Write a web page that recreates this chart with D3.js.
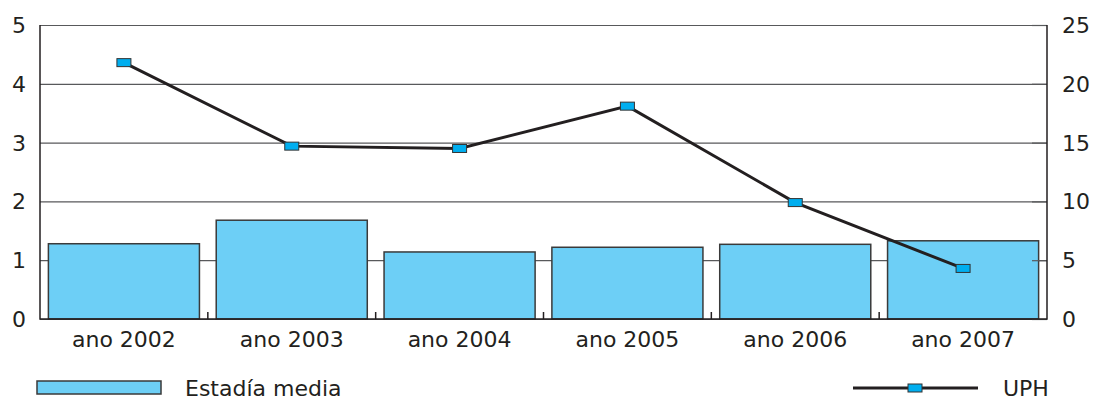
<!DOCTYPE html>
<html lang="es">
<head>
  <meta charset="UTF-8">
  <title>Estadía media y UPH</title>
<style>
  body { margin: 0; background: #fff; }
  svg text { font-family: "DejaVu Sans", "Open Sans", sans-serif; fill: #231f20; }
</style>
</head>
<body>

<svg id="chart" width="1095" height="400"></svg>

<script src="https://d3js.org/d3.v7.min.js"></script>

<script>

var years = ["ano 2002", "ano 2003", "ano 2004", "ano 2005", "ano 2006", "ano 2007"];
var estadia = [1.28, 1.68, 1.14, 1.22, 1.27, 1.33];
var uph = [21.8, 14.7, 14.5, 18.1, 9.9, 4.3];
var leftTicks = [0, 1, 2, 3, 4, 5];
var rightTicks = [0, 5, 10, 15, 20, 25];

var svg = d3.select("#chart"),
  plotLeft = 40, plotRight = 1047, plotTop = 25, plotBottom = 319;

var x = d3.scaleBand()
  .domain(years)
  .range([plotLeft, plotRight])
  .paddingInner(0.1)
  .paddingOuter(0.05);

var xb = d3.scaleBand().domain(years).range([plotLeft, plotRight]);

var y = d3.scaleLinear().domain([0, 5]).range([plotBottom, plotTop]);
var y2 = d3.scaleLinear().domain([0, 25]).range([plotBottom, plotTop]);

// gridlines
svg.append("g")
  .selectAll("line")
  .data(leftTicks)
  .join("line")
    .attr("x1", plotLeft).attr("x2", plotRight)
    .attr("y1", function (d) { return y(d) + 0.5; })
    .attr("y2", function (d) { return y(d) + 0.5; })
    .attr("stroke", "#58595b")
    .attr("stroke-width", 1.2);

// bars
svg.append("g")
  .selectAll("rect")
  .data(estadia)
  .join("rect")
    .attr("x", function (d, i) { return x(years[i]); })
    .attr("width", x.bandwidth())
    .attr("y", function (d) { return y(d); })
    .attr("height", function (d) { return y(0) - y(d); })
    .attr("fill", "#6dcff6")
    .attr("stroke", "#3a3a3a")
    .attr("stroke-width", 1.5);

// right axis inward ticks over the bars
svg.append("g")
  .selectAll("line")
  .data(rightTicks)
  .join("line")
    .attr("x1", plotRight - 15).attr("x2", plotRight)
    .attr("y1", function (d) { return y2(d) + 0.5; })
    .attr("y2", function (d) { return y2(d) + 0.5; })
    .attr("stroke", "#58595b")
    .attr("stroke-width", 1.2);

// category boundary ticks
svg.append("g")
  .selectAll("line")
  .data(years.slice(1))
  .join("line")
    .attr("x1", function (d) { return xb(d); })
    .attr("x2", function (d) { return xb(d); })
    .attr("y1", plotBottom - 7).attr("y2", plotBottom)
    .attr("stroke", "#231f20")
    .attr("stroke-width", 1.5);

// axis frame
svg.append("path")
  .attr("d", "M" + plotLeft + "," + plotTop + "V" + plotBottom + "H" + plotRight + "V" + plotTop)
  .attr("fill", "none")
  .attr("stroke", "#231f20")
  .attr("stroke-width", 1.5);

// tick labels
svg.append("g")
  .selectAll("text")
  .data(leftTicks)
  .join("text")
    .attr("x", 26)
    .attr("y", function (d) { return y(d); })
    .attr("dy", "0.36em")
    .attr("text-anchor", "end")
    .attr("font-size", 22)
    .text(function (d) { return d; });

svg.append("g")
  .selectAll("text")
  .data(rightTicks)
  .join("text")
    .attr("x", 1062)
    .attr("y", function (d) { return y2(d); })
    .attr("dy", "0.36em")
    .attr("font-size", 22)
    .text(function (d) { return d; });

svg.append("g")
  .selectAll("text")
  .data(years)
  .join("text")
    .attr("x", function (d) { return xb(d) + xb.bandwidth() / 2; })
    .attr("y", 347)
    .attr("text-anchor", "middle")
    .attr("font-size", 22)
    .text(function (d) { return d; });

// UPH line
var line = d3.line()
  .x(function (d, i) { return xb(years[i]) + xb.bandwidth() / 2; })
  .y(function (d) { return y2(d); });

svg.append("path")
  .datum(uph)
  .attr("d", line)
  .attr("fill", "none")
  .attr("stroke", "#231f20")
  .attr("stroke-width", 3);

svg.append("g")
  .selectAll("rect")
  .data(uph)
  .join("rect")
    .attr("x", function (d, i) { return xb(years[i]) + xb.bandwidth() / 2 - 7; })
    .attr("y", function (d) { return y2(d) - 4; })
    .attr("width", 14)
    .attr("height", 8)
    .attr("fill", "#00aeef")
    .attr("stroke", "#333")
    .attr("stroke-width", 1);

// legend
svg.append("rect")
  .attr("x", 37).attr("y", 381)
  .attr("width", 124).attr("height", 13)
  .attr("fill", "#6dcff6")
  .attr("stroke", "#3a3a3a")
  .attr("stroke-width", 1.5);
svg.append("text")
  .attr("x", 185).attr("y", 396)
  .attr("font-size", 22)
  .text("Estadía media");

svg.append("line")
  .attr("x1", 853).attr("x2", 978)
  .attr("y1", 388).attr("y2", 388)
  .attr("stroke", "#231f20")
  .attr("stroke-width", 3);
svg.append("rect")
  .attr("x", 908).attr("y", 384)
  .attr("width", 14).attr("height", 8)
  .attr("fill", "#00aeef")
  .attr("stroke", "#333")
  .attr("stroke-width", 1);
svg.append("text")
  .attr("x", 1003).attr("y", 396)
  .attr("font-size", 22)
  .text("UPH");

</script>

</body>
</html>
